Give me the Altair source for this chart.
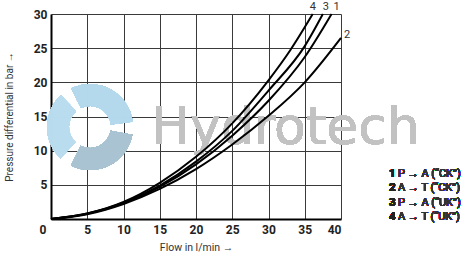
import altair as alt
import pandas as pd

# ---- data ----
flow_1 = [0, 5, 10, 15, 20, 25, 30, 35, 38.7]
dp_1 = [0, 0.75, 2.3, 4.7, 8.0, 12.2, 17.3, 23.7, 30]
flow_2 = [0, 5, 10, 15, 20, 25, 30, 35, 40]
dp_2 = [0, 0.7, 2.2, 4.4, 7.3, 10.9, 15.1, 20.0, 26.5]
flow_3 = [0, 5, 10, 15, 20, 25, 30, 35, 37.5]
dp_3 = [0, 0.8, 2.4, 4.9, 8.4, 12.9, 18.8, 25.3, 30]
flow_4 = [0, 5, 10, 15, 20, 25, 30, 33, 36.1]
dp_4 = [0, 0.8, 2.5, 5.3, 9.1, 14.0, 20.3, 24.7, 30]

curve_ids = ["1", "2", "3", "4"]
legend_numbers = ["1", "2", "3", "4"]
legend_texts = ["P → A (“CK”)", "A → T (“CK”)", "P → A (“UK”)", "A → T (“UK”)"]
x_ticks = [5, 10, 15, 20, 25, 30, 35, 40]
y_ticks = [5, 10, 15, 20, 25, 30]

rows = []
for cid, xs, ys in zip(curve_ids, [flow_1, flow_2, flow_3, flow_4], [dp_1, dp_2, dp_3, dp_4]):
    for xv, yv in zip(xs, ys):
        rows.append({"curve": cid, "flow": xv, "dp": yv})
df = pd.DataFrame(rows)

ends = df.groupby("curve").tail(1).reset_index(drop=True)

FONT = "Roboto, sans-serif"

xscale = alt.Scale(domain=[0, 40], nice=False, zero=True)
yscale = alt.Scale(domain=[0, 30], nice=False, zero=True)

x_axis = alt.Axis(values=x_ticks, grid=True, gridColor="#3a3a3a", gridWidth=1,
                  domainColor="#000", domainWidth=2, ticks=False,
                  labelFont=FONT, labelFontSize=12, labelFontWeight="bold",
                  labelColor="#222", labelPadding=5,
                  title="Flow in l/min →", titleFont=FONT, titleFontSize=10.5,
                  titleFontWeight="normal", titleColor="#333", titlePadding=7)
y_axis = alt.Axis(values=y_ticks, grid=True, gridColor="#3a3a3a", gridWidth=1,
                  domainColor="#000", domainWidth=2, ticks=False,
                  labelFont=FONT, labelFontSize=12, labelFontWeight="bold",
                  labelColor="#222", labelPadding=4,
                  title="Pressure differential in bar →", titleFont=FONT,
                  titleFontSize=10, titleFontWeight="normal", titleColor="#333",
                  titlePadding=19)

base = alt.Chart(df)

# watermark (logo ring + text)
logo_segments = [(5.83, 7.73, "#b3d9ec"), (1.75, 3.6, "#a9c3d2"), (3.9, 5.55, "#b9dcee")]
logo = [
    alt.Chart(df).mark_arc(innerRadius=21, outerRadius=43, theta=t0, theta2=t1,
                           color=c, opacity=0.7)
    .encode(x=alt.value(39), y=alt.value(113))
    for t0, t1, c in logo_segments
]
wm_text = alt.Chart(df).mark_text(text="Hydrotech", font="DejaVu Sans", fontSize=52,
                                  color="#c2c2c2", opacity=0.7, align="left",
                                  baseline="alphabetic").encode(
    x=alt.value(100), y=alt.value(130))

lines = base.mark_line(color="#000", strokeWidth=2, interpolate="monotone").encode(
    x=alt.X("flow:Q", scale=xscale, axis=x_axis),
    y=alt.Y("dp:Q", scale=yscale, axis=y_axis),
    detail="curve:N",
)

# curve number labels near the curve ends
label_dx = {"1": 5, "3": 3, "4": 0}
top_labels = [
    alt.Chart(ends[ends["curve"] == cid]).mark_text(
        font=FONT, fontSize=11, color="#333", dy=-7.5, dx=label_dx[cid],
        baseline="middle").encode(x="flow:Q", y="dp:Q", text="curve:N")
    for cid in ["1", "3", "4"]
]
side_label = alt.Chart(ends[ends["curve"] == "2"]).mark_text(
    font=FONT, fontSize=11, color="#333", dx=6, dy=-3, align="center",
    baseline="middle").encode(x="flow:Q", y="dp:Q", text="curve:N")

zero_label = alt.Chart(pd.DataFrame({"flow": [0], "dp": [0], "t": ["0"]})).mark_text(
    font=FONT, fontSize=12, fontWeight="bold", color="#222", dx=-8, dy=11,
    baseline="middle").encode(x="flow:Q", y="dp:Q", text="t:N")

leg_nums = alt.Chart(df).mark_text(text=legend_numbers, font=FONT, fontSize=11.5,
                                   fontWeight="bold", color="#222", align="left",
                                   baseline="middle", lineHeight=14.4).encode(
    x=alt.value(338), y=alt.value(160))
leg_txt = alt.Chart(df).mark_text(text=legend_texts, font=FONT, fontSize=11,
                                  color="#333", align="left", baseline="middle",
                                  lineHeight=14.4).encode(
    x=alt.value(347), y=alt.value(160))

chart = alt.layer(*logo, wm_text, lines, *top_labels, side_label, zero_label,
                  leg_nums, leg_txt).properties(
    width=290, height=205,
    autosize=alt.AutoSizeParams(type="none"),
    padding={"left": 51, "top": 14, "right": 123, "bottom": 35},
    background="white",
).configure_view(stroke=None)

chart.save("out.html", embed_options={"renderer": "svg", "actions": False})
